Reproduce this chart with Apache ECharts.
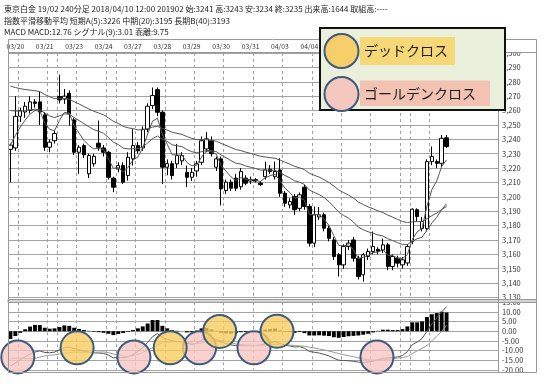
<!DOCTYPE html>
<html>
<head>
<meta charset="utf-8">
<script src="https://cdn.jsdelivr.net/npm/echarts@6/dist/echarts.min.js"></script>
<style>
html,body{margin:0;padding:0;background:#fff;}
#chart{width:546px;height:388px;}
</style>
</head>
<body>
<div id="chart"></div>
<script>
// ---------- texts ----------
const titleLines = [
  '東京白金 19/02 240分足 2018/04/10 12:00 201902 始:3241 高:3243 安:3234 終:3235 出来高:1644 取組高:----',
  '指数平滑移動平均 短期A(5):3226 中期(20):3195 長期B(40):3193',
  'MACD MACD:12.76 シグナル(9):3.01 乖離:9.75'
];
const legendLabels = ['デッドクロス', 'ゴールデンクロス'];
const dayLabels = ['03/20','03/21','03/23','03/24','03/27','03/28','03/29','03/30','03/31','04/03','04/04','04/05','04/06','04/07','04/10'];

// ---------- price data (240-minute bars) ----------
const opens = [3233,3234,3256,3259,3260,3266,3266,3257,3234.5,3239,
  3269.7,3268,3272,3253.5,3231,3235.6,3216,3223,3237.3,3234,
  3231,3213,3219.4,3221.7,3214.8,3226.4,3235.6,3234,3247,3263.4,
  3274.5,3258.8,3220.6,3223,3222.9,3225,3217,3213.6,3218,3224,
  3233.3,3239,3220.6,3226.4,3204.4,3210.2,3213,3207,3213,3211,
  3212,3209.5,3214,3219.2,3214,3218.7,3202.5,3194.4,3200.2,3192,
  3206.7,3193.3,3167.8,3186,3187.5,3178.2,3170,3159.7,3152.7,3165.4,
  3170,3157.3,3145.8,3158.5,3162,3163.5,3163,3166.6,3151.6,3157.3,
  3152.7,3154,3169,3191,3178,3178,3224.5,3224.5,3223.3,3241];
const closes = [3236,3256,3260,3263,3266,3265,3259,3234.5,3238,3244,
  3267.4,3270,3257.6,3231,3234.5,3229.2,3228.7,3228.2,3234.5,3231,
  3213.6,3206.7,3221.7,3210.2,3227.5,3235.6,3232,3247,3263,3270.4,
  3258.8,3220.6,3223,3214.8,3228.7,3228.7,3213.6,3217,3222.9,3239,
  3240.3,3230,3226.4,3205.5,3210.2,3206,3206,3217.6,3209.5,3212,
  3211,3208.5,3218.7,3217.6,3217.6,3202.5,3195.6,3196.7,3191,3201.4,
  3193.3,3167.8,3187.5,3187.5,3178.2,3171.2,3158.5,3152.7,3165.4,3167.8,
  3157.3,3144.6,3159.7,3162,3165.4,3162.2,3166.6,3151.6,3158.5,3153.9,
  3156.2,3165.4,3191.4,3186.3,3182.8,3224.5,3228,3223.3,3240.7,3235];
const lows = [3210,3232,3252,3255,3258,3262,3250,3232,3231,3237,
  3265,3264.6,3249.5,3229,3216,3227,3213,3221,3232,3228,
  3212,3203.2,3217,3209,3211.3,3221.7,3230,3232,3245,3261,
  3256,3209,3215,3212,3220,3222,3206.7,3211,3214,3222,
  3231,3228,3218,3194,3202,3204,3204,3205,3208,3209,
  3210,3207.5,3212,3216,3212,3200,3193,3192,3187.5,3190,
  3191,3165.4,3165,3184,3176,3169,3156,3144.6,3150,3163,
  3155,3142.5,3141,3156,3160,3160,3161,3149,3149,3151,
  3150,3152,3167,3183,3176,3176,3222,3220,3221,3234];
const highs = [3237,3270,3262,3266,3270,3268,3273,3259,3240,3246,
  3285,3275,3274,3255,3236,3237,3230,3230,3253,3236,
  3232,3214,3224,3224,3231,3247,3238,3249,3265,3276,
  3276,3260,3226,3225,3236.8,3231,3221.7,3220,3225,3242,
  3245,3242,3228,3228,3212,3212,3216,3220,3215,3214,
  3213,3211,3224.5,3222,3224.5,3226.8,3204,3199,3202,3203,
  3208.4,3195,3193.3,3193,3189,3180,3172,3161,3167,3170,
  3172,3159,3161,3164,3175.9,3165,3171,3168,3160,3159,
  3158,3167,3192,3192,3186,3226,3235,3226,3243,3243];

// exponential moving averages
const emaShort = [3236,3242.7,3248.5,3253.3,3257.5,3260,3259.7,3251.3,3246.9,3245.9,
  3253.1,3258.7,3258.3,3249.2,3244.3,3239.3,3235.8,3233.3,3233.7,3232.8,
  3226.4,3219.8,3220.4,3217,3220.5,3225.5,3227.7,3234.1,3243.7,3252.6,
  3254.7,3243.3,3236.5,3229.3,3229.1,3229,3223.9,3221.6,3222,3227.7,
  3231.9,3231.3,3229.7,3221.6,3217.8,3213.9,3211.3,3213.4,3212.1,3212.1,
  3211.7,3210.6,3213.3,3214.7,3215.7,3211.3,3206.1,3203,3199,3199.8,
  3197.6,3187.7,3187.6,3187.6,3184.5,3180.1,3172.9,3166.2,3165.9,3166.5,
  3163.4,3157.1,3158,3159.3,3161.3,3161.6,3163.3,3159.4,3159.1,3157.4,
  3157,3159.8,3170.3,3175.6,3178,3193.5,3205,3211.1,3221,3225.7];
const emaMid = [3260,3259.6,3259.6,3259.9,3260.5,3260.9,3260.7,3258.2,3256.3,3255.1,
  3256.3,3257.6,3257.6,3255.1,3253.1,3250.8,3248.7,3246.7,3245.6,3244.2,
  3241.3,3238,3236.4,3233.9,3233.3,3233.5,3233.4,3234.7,3237.4,3240.5,
  3242.2,3240.1,3238.5,3236.2,3235.5,3234.9,3232.9,3231.4,3230.6,3231.4,
  3232.2,3232,3231.5,3229,3227.2,3225.2,3223.4,3222.8,3221.5,3220.6,
  3219.7,3218.6,3218.6,3218.5,3218.4,3216.9,3214.9,3213.2,3211.1,3210.2,
  3208.6,3204.7,3203.1,3201.6,3199.4,3196.7,3193.1,3189.3,3187,3185.2,
  3182.5,3178.9,3177.1,3175.7,3174.7,3173.5,3172.8,3170.8,3169.6,3168.1,
  3167,3166.8,3169.1,3170.8,3171.9,3176.9,3181.8,3185.8,3191,3195.2];
const emaLong = [3277,3276,3275.2,3274.6,3274.2,3273.8,3273.1,3271.2,3269.6,3268.3,
  3268.3,3268.4,3267.9,3266.1,3264.6,3262.8,3261.1,3259.5,3258.3,3257,
  3254.9,3252.5,3251,3249,3248,3247.4,3246.6,3246.6,3247.4,3248.5,
  3249,3247.6,3246.4,3244.9,3244.1,3243.4,3241.9,3240.7,3239.8,3239.8,
  3239.8,3239.3,3238.7,3237.1,3235.8,3234.3,3232.9,3232.2,3231.1,3230.2,
  3229.2,3228.2,3227.7,3227.2,3226.8,3225.6,3224.1,3222.8,3221.2,3220.2,
  3218.9,3216.4,3215,3213.7,3212,3210,3207.5,3204.8,3202.9,3201.2,
  3199.1,3196.4,3194.6,3193,3191.7,3190.3,3189.1,3187.3,3185.9,3184.3,
  3182.9,3182.1,3182.6,3182.8,3182.8,3184.8,3186.9,3188.7,3191.2,3193.3];

// MACD panel
const macdLine = [-18,-16.5,-14.8,-13.2,-11.8,-10.8,-10.2,-11,-11.2,-10.8,
  -9.6,-8.5,-8.3,-9,-9.6,-10.3,-10.8,-11.2,-11.3,-11.5,
  -12.4,-13.8,-13.6,-13.8,-13.3,-12,-10.5,-8.5,-5.8,-2.8,
  -1.2,-3.2,-4.2,-5,-5.3,-5.4,-6.3,-6.8,-6.2,-4.6,
  -3.6,-3.8,-4.3,-5.6,-6.4,-7.1,-7.5,-7.4,-7.5,-7.5,
  -7.4,-7.2,-6.5,-5.9,-5.4,-6.3,-7.3,-7.6,-8.2,-8,
  -8.8,-10.5,-10.9,-11.3,-12,-12.8,-14,-15,-15.2,-15.3,
  -15.6,-16,-16.2,-16,-15.5,-14.8,-14,-13.8,-13.6,-13.3,
  -12.6,-10.6,-7,-5.6,-3.8,0,3.8,7,10,12.76];
const signalLine = [-14,-14,-14,-14.2,-14.2,-14.1,-13.4,-12.8,-12.5,-12.3,
  -11.8,-11.5,-11.1,-10.8,-10.8,-10.9,-11,-10.9,-10.8,-10.7,
  -11.1,-11.8,-12.2,-12.9,-13,-12.6,-12,-11,-9.8,-8.6,
  -7,-6,-5.7,-5.5,-5.5,-5.4,-5.7,-6.2,-6.5,-6.1,
  -5.4,-4.7,-4.5,-4.8,-5.3,-5.9,-6.6,-6.9,-7.1,-7.3,
  -7.4,-7.4,-7.3,-7.1,-6.8,-6.7,-7,-7.2,-7.4,-7.6,
  -7.8,-8.3,-8.7,-9.2,-9.7,-10.3,-10.9,-11.6,-12.2,-12.7,
  -13.2,-13.8,-14.4,-14.7,-14.9,-15,-14.8,-14.6,-14.2,-13.9,
  -13.7,-13.1,-11.6,-10.2,-8.9,-7.4,-5,-2.4,-0.1,3.01];
const macdHist = [-4,-2.5,-0.8,1,2.4,3.3,3.2,1.8,1.3,1.5,
  2.2,3,2.8,1.8,1.2,0.6,0.2,-0.3,-0.5,-0.8,
  -1.3,-2,-1.4,-0.9,-0.3,0.6,1.5,2.5,4,5.8,
  5.8,2.8,1.5,0.5,0.2,0,-0.6,-0.6,0.3,1.5,
  1.8,0.9,0.2,-0.8,-1.1,-1.2,-0.9,-0.5,-0.4,-0.2,
  0,0.2,0.8,1.2,1.4,0.4,-0.3,-0.4,-0.8,-0.4,
  -1,-2.2,-2.2,-2.1,-2.3,-2.5,-3.1,-3.4,-3,-2.6,
  -2.4,-2.2,-1.8,-1.3,-0.6,0.2,0.8,0.8,0.6,0.6,
  1.1,2.5,4.6,4.6,5.1,7.4,8.8,9.4,10.1,9.75];

// cross annotations: [bar position, MACD value]
const deadCross = [[13.6,-8.6],[32.6,-8.6],[42.7,-0.1],[54.4,0]];
const goldenCross = [[1.5,-13.3],[25.2,-13.3],[38.6,-8.6],[49.7,-8.6],[74.8,-13.3]];

// session boundaries (bar index where a new session starts)
const sessionBreaks = [2,8,10,14,20,22,26,32,38,44,50,56,62,68,74,80,82,86];
const monthBreaks = [52];

// ---------- build ----------
const SLOTS = 100;   // category slots, incl. empty space at the right
const BARS_PER_DAY = 6;
const categories = [];
for (let i = 0; i < SLOTS; i++) {
  const d = (i - 1) / BARS_PER_DAY;
  categories.push(Number.isInteger(d) && d >= 0 && d < dayLabels.length ? dayLabels[d] : '');
}
const ohlc = opens.map((o, i) => [o, closes[i], lows[i], highs[i]]);
const lastClose = closes[closes.length - 1];

const FONT = '"Noto Sans CJK JP", "Noto Sans", sans-serif';
const fmtPrice = v => String(v).replace(/\B(?=(\d{3})+(?!\d))/g, ',');

const PL = 8, PW = 490, PT = 53, PH = 244.5, MT = 302.3, MH = 67.5;
const FR = 536.5, FTOP = 39.5, FBOT = 372.5;
const GRID = '#a2a2a2', FRAME = '#999';

function catAxis(grid, breaks, dashed, labels) {
  return {
    type: 'category', gridIndex: grid, data: categories, boundaryGap: true,
    position: labels ? 'top' : 'bottom',
    axisLine: {show: false}, axisTick: {show: false},
    axisLabel: labels ? {interval: 0, fontSize: 6.8, color: '#333', margin: 3.3, fontFamily: FONT} : {show: false},
    splitLine: {show: true, interval: (i) => breaks.includes(i),
      lineStyle: {type: dashed ? [3, 3] : 'solid', color: dashed ? '#a0a0a0' : '#777', width: 1}}
  };
}

const line = (data, xi, yi, color) => ({
  type: 'line', xAxisIndex: xi, yAxisIndex: yi, data: data, symbol: 'none', showSymbol: false,
  lineStyle: {color: color, width: 1}, z: 4, silent: true
});

const option = {
  animation: false,
  backgroundColor: '#fff',
  grid: [
    {left: PL, top: PT, width: PW, height: PH},
    {left: PL, top: MT, width: PW, height: MH}
  ],
  xAxis: [
    catAxis(0, sessionBreaks, true, true),
    catAxis(0, monthBreaks, false, false),
    catAxis(1, sessionBreaks, true, false),
    catAxis(1, monthBreaks, false, false),
    {type: 'value', gridIndex: 1, min: -0.5, max: SLOTS - 0.5, show: false}
  ],
  yAxis: [
    {type: 'value', gridIndex: 0, position: 'right', min: 3130, max: 3300, interval: 10,
     axisLine: {show: false}, axisTick: {show: false},
     axisLabel: {fontSize: 7.5, color: '#333', margin: 4, fontFamily: FONT, formatter: fmtPrice},
     splitLine: {lineStyle: {color: GRID, width: 1}}},
    {type: 'value', gridIndex: 1, position: 'right', min: -20, max: 15, interval: 5,
     axisLine: {show: false}, axisTick: {show: false},
     axisLabel: {fontSize: 7.5, color: '#333', margin: 4, fontFamily: FONT, formatter: v => v.toFixed(2)},
     splitLine: {lineStyle: {color: GRID, width: 1}}}
  ],
  series: [
    {type: 'candlestick', xAxisIndex: 0, yAxisIndex: 0, data: ohlc, barWidth: 3.9, z: 3,
     itemStyle: {color: '#fff', color0: '#000', borderColor: '#000', borderColor0: '#000', borderWidth: 1},
     markLine: {silent: true, symbol: 'none', data: [{yAxis: lastClose}],
       lineStyle: {opacity: 0},
       label: {position: 'end', distance: 0, formatter: () => fmtPrice(lastClose), color: '#fff',
         backgroundColor: '#000', fontSize: 8, fontFamily: FONT, padding: [0, 12, 0, 3], lineHeight: 9}}},
    line(emaShort, 0, 0, '#555'),
    line(emaMid, 0, 0, '#555'),
    line(emaLong, 0, 0, '#555'),
    {type: 'bar', xAxisIndex: 2, yAxisIndex: 1, data: macdHist, barWidth: 3.9, itemStyle: {color: '#000'}, z: 3, silent: true},
    line(macdLine, 2, 1, '#555'),
    line(signalLine, 2, 1, '#999'),
    {type: 'scatter', xAxisIndex: 4, yAxisIndex: 1, data: goldenCross, symbolSize: 33, z: 10, silent: true,
     itemStyle: {color: 'rgba(247,196,192,0.78)', borderColor: '#3e5a7c', borderWidth: 2, opacity: 1}},
    {type: 'scatter', xAxisIndex: 4, yAxisIndex: 1, data: deadCross, symbolSize: 33, z: 11, silent: true,
     itemStyle: {color: 'rgba(246,205,96,0.8)', borderColor: '#3e5a7c', borderWidth: 2, opacity: 1}}
  ],
  graphic: {elements: [
    // clip rectangles for half-hidden axis labels
    {type: 'rect', z: 50, silent: true, shape: {x: 499, y: FTOP + 0.5, width: FR - 499, height: 12.5}, style: {fill: '#fff'}},
    {type: 'rect', z: 50, silent: true, shape: {x: 499, y: FBOT + 0.5, width: 47, height: 15}, style: {fill: '#fff'}},
    // separator band between panels
    {type: 'rect', z: 60, silent: true, shape: {x: PL, y: 299.5, width: FR - PL, height: 3}, style: {fill: '#d4d4d4', stroke: FRAME, lineWidth: 1}},
    // frame
    {type: 'line', z: 60, silent: true, shape: {x1: PL + 0.5, y1: FTOP, x2: FR, y2: FTOP}, style: {stroke: FRAME, lineWidth: 1}},
    {type: 'line', z: 60, silent: true, shape: {x1: PL + 0.5, y1: 52.5, x2: FR, y2: 52.5}, style: {stroke: FRAME, lineWidth: 1}},
    {type: 'line', z: 60, silent: true, shape: {x1: PL + 0.5, y1: FBOT, x2: FR, y2: FBOT}, style: {stroke: FRAME, lineWidth: 1}},
    {type: 'line', z: 60, silent: true, shape: {x1: PL + 0.5, y1: FTOP, x2: PL + 0.5, y2: FBOT}, style: {stroke: FRAME, lineWidth: 1}},
    {type: 'line', z: 60, silent: true, shape: {x1: FR, y1: FTOP, x2: FR, y2: FBOT}, style: {stroke: FRAME, lineWidth: 1}},
    {type: 'line', z: 60, silent: true, shape: {x1: PL + PW + 0.5, y1: 52.5, x2: PL + PW + 0.5, y2: FBOT}, style: {stroke: FRAME, lineWidth: 1}},
    // title lines
    {type: 'text', z: 70, silent: true, style: {text: titleLines[0], x: 4, y: 9, fontSize: 8, fontFamily: FONT, fill: '#222', verticalAlign: 'middle'}},
    {type: 'text', z: 70, silent: true, style: {text: titleLines[1], x: 4, y: 20.5, fontSize: 8, fontFamily: FONT, fill: '#222', verticalAlign: 'middle'}},
    {type: 'text', z: 70, silent: true, style: {text: titleLines[2], x: 4, y: 32, fontSize: 8, fontFamily: FONT, fill: '#222', verticalAlign: 'middle'}},
    // legend box
    {type: 'rect', z: 80, silent: true, shape: {x: 320, y: 28, width: 185, height: 82}, style: {fill: '#ebf0dd', stroke: '#111', lineWidth: 2}},
    {type: 'rect', z: 81, silent: true, shape: {x: 360, y: 37, width: 95, height: 28}, style: {fill: '#f6d878'}},
    {type: 'rect', z: 81, silent: true, shape: {x: 360, y: 80.5, width: 130, height: 25.5}, style: {fill: '#f2c2b3'}},
    {type: 'circle', z: 82, silent: true, shape: {cx: 341.5, cy: 51, r: 17}, style: {fill: '#f6cf6a', stroke: '#3e5a7c', lineWidth: 2}},
    {type: 'circle', z: 82, silent: true, shape: {cx: 341.5, cy: 94, r: 17}, style: {fill: '#f5c8bf', stroke: '#3e5a7c', lineWidth: 2}},
    {type: 'text', z: 83, silent: true, style: {text: legendLabels[0], x: 364, y: 51, fontSize: 14, fontFamily: FONT, fill: '#222', verticalAlign: 'middle'}},
    {type: 'text', z: 83, silent: true, style: {text: legendLabels[1], x: 364, y: 93.5, fontSize: 14, fontFamily: FONT, fill: '#222', verticalAlign: 'middle'}}
  ]}
};

const chart = echarts.init(document.getElementById('chart'), null, {renderer: 'canvas'});
chart.setOption(option);
</script>
</body>
</html>
